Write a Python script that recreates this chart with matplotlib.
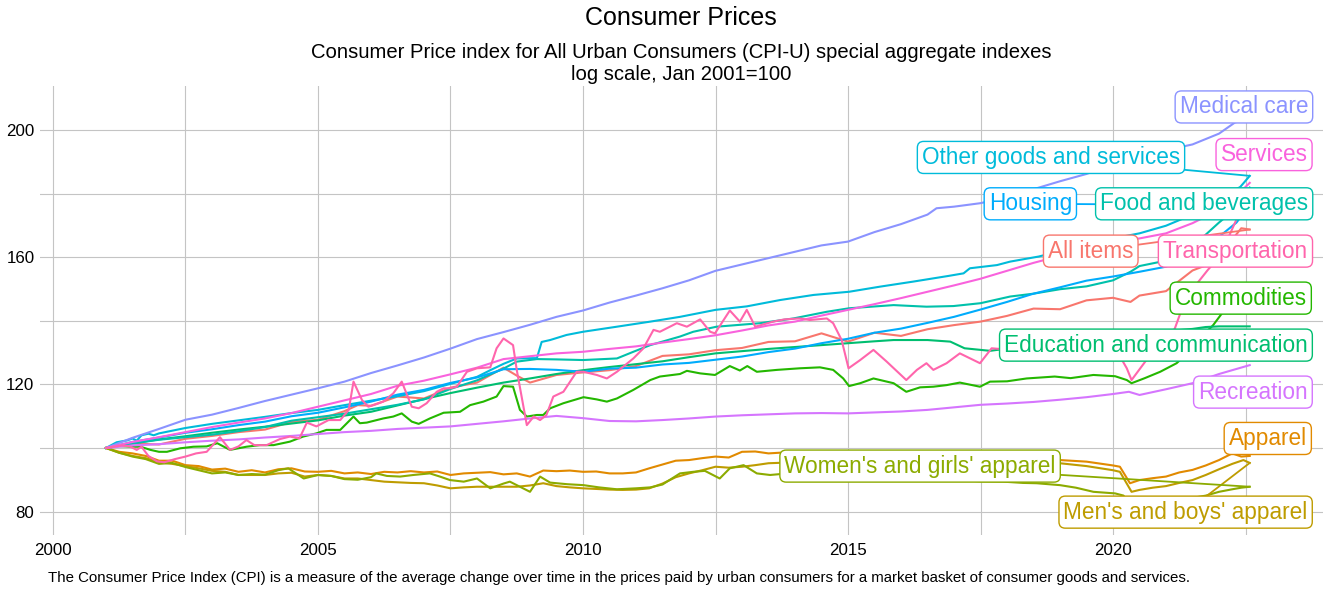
import matplotlib
matplotlib.use("Agg")
import matplotlib.pyplot as plt

plt.rcParams['font.family'] = ['Liberation Sans', 'DejaVu Sans']

# CPI-U special aggregate indexes, rebased to Jan 2001 = 100 (decimal year, index)
all_items = [(2001.0, 100.0), (2001.5, 101.4), (2002.0, 101.1), (2002.5, 102.9), (2003.0, 103.8),
             (2003.5, 105.0), (2004.0, 105.8), (2004.5, 108.2), (2005.0, 108.9), (2005.5, 111.6),
             (2005.75, 113.5), (2006.0, 113.3), (2006.5, 116.2), (2007.0, 115.6), (2007.5, 119.0),
             (2008.0, 120.6), (2008.5, 125.3), (2008.75, 122.8), (2009.0, 120.6), (2009.5, 123.0),
             (2010.0, 123.8), (2010.5, 124.5), (2011.0, 125.8), (2011.5, 129.0), (2012.0, 129.5),
             (2012.5, 130.8), (2013.0, 131.5), (2013.5, 133.4), (2014.0, 133.6), (2014.5, 136.1),
             (2015.0, 133.5), (2015.5, 136.3), (2016.0, 135.3), (2016.5, 137.4), (2017.0, 138.7),
             (2017.5, 139.8), (2018.0, 141.6), (2018.5, 143.9), (2019.0, 143.7), (2019.5, 146.5),
             (2020.0, 147.3), (2020.33, 146.0), (2020.5, 148.0), (2021.0, 149.4), (2021.5, 155.9),
             (2021.75, 157.5), (2022.0, 160.5), (2022.42, 169.2), (2022.58, 168.8)]

apparel = [(2001.0, 100.0), (2001.25, 98.8), (2001.5, 98.3), (2001.75, 97.5), (2002.0, 96.0),
           (2002.25, 96.0), (2002.5, 94.6), (2002.75, 94.3), (2003.0, 93.2), (2003.25, 93.5),
           (2003.5, 92.5), (2003.75, 93.0), (2004.0, 92.3), (2004.25, 93.3), (2004.5, 93.6),
           (2004.75, 92.6), (2005.0, 92.5), (2005.25, 92.8), (2005.5, 92.0), (2005.75, 92.3),
           (2006.0, 91.8), (2006.25, 92.5), (2006.5, 92.3), (2006.75, 92.7), (2007.0, 92.3),
           (2007.25, 92.6), (2007.5, 91.5), (2007.75, 92.0), (2008.0, 92.2), (2008.25, 92.4),
           (2008.5, 91.7), (2008.75, 92.0), (2009.0, 91.0), (2009.25, 92.9), (2009.5, 92.7),
           (2009.75, 92.9), (2010.0, 92.5), (2010.25, 92.6), (2010.5, 92.0), (2010.75, 92.0),
           (2011.0, 92.3), (2011.25, 93.6), (2011.5, 94.8), (2011.75, 96.0), (2012.0, 96.2),
           (2012.25, 96.8), (2012.5, 97.3), (2012.75, 97.0), (2013.0, 98.8), (2013.25, 98.9),
           (2013.5, 98.3), (2014.0, 98.8), (2014.5, 98.0), (2015.0, 97.2), (2015.5, 97.0),
           (2016.0, 96.5), (2016.5, 96.0), (2017.0, 96.0), (2017.5, 95.6), (2018.0, 95.8),
           (2018.5, 96.5), (2019.0, 96.2), (2019.5, 95.7), (2020.0, 94.5), (2020.13, 94.1),
           (2020.32, 88.9), (2020.5, 89.9), (2020.75, 90.5), (2021.0, 91.0), (2021.25, 92.3),
           (2021.5, 93.1), (2021.75, 94.5), (2022.0, 96.2), (2022.25, 98.3), (2022.42, 97.3),
           (2022.58, 97.5)]

mens_boys_apparel = [(2001.0, 100.0), (2001.25, 98.5), (2001.5, 97.5), (2001.75, 96.8), (2002.0, 95.5),
                     (2002.25, 95.0), (2002.5, 94.3), (2002.75, 93.6), (2003.0, 92.8), (2003.25, 92.5),
                     (2003.5, 91.5), (2003.75, 91.5), (2004.0, 91.5), (2004.25, 92.0), (2004.5, 92.2),
                     (2004.75, 91.0), (2005.0, 91.5), (2005.25, 91.2), (2005.5, 90.4), (2005.75, 90.4),
                     (2006.0, 89.9), (2006.25, 89.4), (2006.5, 89.2), (2006.75, 89.0), (2007.0, 88.9),
                     (2007.25, 88.2), (2007.5, 87.3), (2007.75, 87.6), (2008.0, 87.8), (2008.25, 87.8),
                     (2008.5, 87.8), (2008.75, 87.8), (2009.0, 88.2), (2009.25, 88.9), (2009.5, 88.0),
                     (2009.75, 87.6), (2010.0, 87.3), (2010.25, 87.1), (2010.5, 86.9), (2010.75, 86.8),
                     (2011.0, 86.9), (2011.25, 87.3), (2011.5, 88.8), (2011.75, 90.8), (2012.0, 92.0),
                     (2012.25, 93.0), (2012.5, 94.1), (2012.75, 93.8), (2013.0, 94.1), (2013.25, 94.6),
                     (2013.5, 95.2), (2014.0, 95.5), (2014.5, 95.3), (2015.0, 95.0), (2015.5, 94.8),
                     (2016.0, 94.5), (2016.5, 94.3), (2017.0, 94.5), (2017.5, 94.3), (2018.0, 94.8),
                     (2018.5, 95.0), (2019.0, 95.2), (2019.5, 94.3), (2020.0, 93.0), (2020.13, 92.5),
                     (2020.35, 86.2), (2020.5, 86.8), (2020.75, 87.5), (2021.0, 88.0), (2021.25, 89.0),
                     (2021.5, 89.9), (2021.75, 91.5), (2022.0, 93.3), (2022.25, 95.0), (2022.46, 96.2),
                     (2022.58, 95.3)]

womens_girls_apparel = [(2001.0, 100.0), (2001.25, 98.5), (2001.5, 97.3), (2001.75, 96.5), (2002.0, 95.0),
                        (2002.25, 95.3), (2002.5, 94.0), (2002.75, 93.0), (2003.0, 92.0), (2003.25, 92.3),
                        (2003.5, 91.5), (2003.75, 91.8), (2004.0, 91.6), (2004.25, 93.0), (2004.44, 93.6),
                        (2004.73, 90.4), (2005.0, 91.5), (2005.25, 91.2), (2005.5, 90.2), (2005.75, 90.0),
                        (2006.0, 90.8), (2006.1, 92.0), (2006.3, 91.2), (2006.55, 91.0), (2006.8, 91.5),
                        (2007.11, 92.0), (2007.3, 91.0), (2007.49, 89.9), (2007.75, 89.4), (2008.0, 90.4),
                        (2008.25, 87.3), (2008.5, 88.8), (2008.62, 89.4), (2009.0, 86.2), (2009.19, 91.0),
                        (2009.38, 89.1), (2009.7, 88.6), (2010.01, 88.3), (2010.3, 87.6), (2010.64, 87.0),
                        (2011.0, 87.3), (2011.27, 87.6), (2011.5, 88.5), (2011.83, 92.0), (2012.08, 92.5),
                        (2012.3, 92.8), (2012.58, 90.4), (2012.77, 93.6), (2013.03, 94.6), (2013.28, 92.0),
                        (2013.53, 91.5), (2014.0, 92.2), (2014.5, 91.5), (2015.0, 91.0), (2015.5, 90.8),
                        (2016.0, 90.3), (2016.5, 90.0), (2017.0, 90.0), (2017.5, 89.5), (2017.93, 89.4),
                        (2018.3, 89.0), (2018.56, 88.9), (2019.0, 88.3), (2019.3, 87.5), (2019.63, 86.2),
                        (2020.04, 85.7), (2020.2, 85.0), (2020.35, 80.0), (2020.5, 81.0), (2020.75, 82.0),
                        (2021.0, 82.8), (2021.25, 83.5), (2021.5, 84.3), (2021.75, 85.0), (2022.0, 86.2),
                        (2022.25, 87.0), (2022.42, 87.5), (2022.58, 87.8)]

commodities = [(2001.0, 100.0), (2001.25, 100.6), (2001.5, 100.4), (2001.65, 100.4), (2001.84, 99.4),
               (2002.0, 98.8), (2002.15, 98.8), (2002.4, 99.9), (2002.65, 100.4), (2002.9, 100.5),
               (2003.1, 101.5), (2003.34, 99.4), (2003.65, 100.4), (2003.9, 100.9), (2004.16, 100.9),
               (2004.47, 102.0), (2004.72, 103.6), (2004.97, 104.6), (2005.16, 105.7), (2005.42, 105.7),
               (2005.67, 109.9), (2005.79, 107.8), (2005.92, 108.0), (2006.23, 109.3), (2006.42, 109.9),
               (2006.58, 110.9), (2006.77, 108.3), (2006.9, 107.6), (2007.11, 109.3), (2007.37, 111.1),
               (2007.68, 111.4), (2007.87, 113.5), (2008.12, 114.6), (2008.37, 116.2), (2008.5, 119.5),
               (2008.68, 119.3), (2008.81, 112.0), (2008.94, 109.9), (2009.13, 110.4), (2009.25, 110.4),
               (2009.38, 112.5), (2009.63, 114.1), (2010.01, 116.0), (2010.26, 115.3), (2010.45, 114.6),
               (2010.64, 115.6), (2010.95, 118.3), (2011.27, 121.4), (2011.45, 122.5), (2011.83, 123.3),
               (2011.96, 124.3), (2012.21, 123.5), (2012.49, 123.0), (2012.77, 125.8), (2012.96, 124.4),
               (2013.1, 125.8), (2013.28, 124.0), (2013.66, 124.6), (2014.09, 125.1), (2014.47, 125.4),
               (2014.72, 124.6), (2014.91, 121.9), (2015.02, 119.5), (2015.23, 120.4), (2015.48, 121.9),
               (2015.86, 120.4), (2016.1, 117.7), (2016.36, 119.1), (2016.61, 119.3), (2016.86, 119.8),
               (2017.11, 120.6), (2017.49, 119.3), (2017.68, 120.9), (2018.0, 121.0), (2018.37, 121.9),
               (2018.9, 122.5), (2019.2, 122.0), (2019.63, 123.0), (2020.04, 122.6), (2020.26, 121.4),
               (2020.35, 120.4), (2020.6, 122.0), (2020.89, 124.0), (2021.2, 126.7), (2021.45, 130.5),
               (2021.7, 135.5), (2021.89, 138.7), (2022.06, 142.5), (2022.25, 146.0), (2022.42, 149.0),
               (2022.58, 146.5)]

education_communication = [(2001.0, 100.0), (2001.5, 101.5), (2002.0, 102.7), (2002.5, 103.7), (2003.0, 104.8),
                           (2003.5, 105.8), (2004.0, 106.7), (2004.5, 107.7), (2005.0, 108.7), (2005.5, 110.2),
                           (2006.0, 111.4), (2006.5, 113.4), (2007.0, 115.4), (2007.5, 117.3), (2008.0, 119.0),
                           (2008.5, 120.6), (2009.0, 121.9), (2009.5, 123.3), (2010.0, 124.5), (2010.5, 125.5),
                           (2011.0, 126.4), (2011.5, 127.3), (2012.0, 128.6), (2012.5, 129.8), (2013.0, 130.5),
                           (2013.5, 131.2), (2014.0, 131.8), (2014.5, 132.4), (2015.0, 133.0), (2015.5, 133.6),
                           (2015.86, 134.0), (2016.5, 134.0), (2016.93, 133.5), (2017.2, 131.4), (2017.68, 130.6),
                           (2018.0, 131.3), (2018.5, 132.4), (2019.0, 133.4), (2019.5, 134.4), (2020.0, 135.3),
                           (2020.5, 136.0), (2021.0, 136.8), (2021.5, 137.5), (2021.75, 138.1), (2022.0, 138.3),
                           (2022.58, 138.3)]

food_beverages = [(2001.0, 100.0), (2001.5, 101.4), (2002.0, 102.6), (2002.5, 103.4), (2003.0, 104.2),
                  (2003.5, 105.3), (2004.0, 106.6), (2004.5, 108.6), (2005.0, 109.7), (2005.5, 110.8),
                  (2006.0, 112.2), (2006.5, 113.6), (2007.0, 115.3), (2007.5, 118.6), (2008.0, 121.3),
                  (2008.5, 125.0), (2008.75, 127.2), (2009.13, 128.0), (2009.5, 127.9), (2010.0, 127.7),
                  (2010.64, 128.2), (2010.95, 130.3), (2011.27, 132.4), (2011.83, 135.1), (2012.08, 136.6),
                  (2012.52, 138.2), (2013.34, 139.3), (2013.97, 140.8), (2014.6, 142.9), (2015.02, 144.0),
                  (2015.86, 145.0), (2016.48, 144.5), (2016.99, 144.7), (2017.5, 145.6), (2018.06, 147.7),
                  (2018.5, 148.6), (2019.0, 150.0), (2019.5, 150.9), (2020.0, 152.8), (2020.33, 155.5),
                  (2020.5, 157.3), (2021.0, 159.0), (2021.5, 163.4), (2022.0, 171.0), (2022.25, 174.5),
                  (2022.58, 182.0)]

other_goods_services = [(2001.0, 100.0), (2001.2, 101.8), (2001.4, 102.4), (2001.5, 103.0), (2001.58, 102.3),
                        (2001.67, 104.0), (2001.8, 104.5), (2001.9, 104.0), (2002.0, 104.6), (2002.5, 106.3),
                        (2003.0, 107.6), (2003.5, 108.7), (2004.0, 109.8), (2004.5, 111.0), (2005.0, 112.0),
                        (2005.5, 113.5), (2006.0, 114.9), (2006.5, 116.3), (2007.0, 117.9), (2007.5, 120.2),
                        (2008.0, 122.4), (2008.25, 124.5), (2008.5, 126.5), (2008.75, 128.2), (2009.13, 128.3),
                        (2009.22, 133.4), (2009.38, 134.0), (2009.69, 135.6), (2010.0, 136.6), (2010.64, 138.2),
                        (2011.27, 139.8), (2011.83, 141.3), (2012.5, 143.5), (2013.09, 144.6), (2013.72, 146.6),
                        (2014.35, 148.2), (2015.02, 149.2), (2015.6, 150.8), (2016.23, 152.4), (2016.9, 154.2),
                        (2017.18, 155.0), (2017.3, 156.6), (2017.81, 157.6), (2018.06, 158.7), (2018.6, 160.3),
                        (2019.0, 162.0), (2019.5, 164.0), (2020.0, 166.0), (2020.5, 167.6), (2021.0, 170.0),
                        (2021.5, 173.5), (2022.0, 178.5), (2022.4, 182.2), (2022.58, 185.7)]

housing = [(2001.0, 100.0), (2001.5, 101.9), (2002.0, 103.3), (2002.5, 104.8), (2003.0, 105.9),
           (2003.5, 107.2), (2004.0, 108.3), (2004.5, 110.0), (2005.0, 111.1), (2005.5, 112.8),
           (2006.0, 114.6), (2006.5, 116.8), (2007.0, 118.3), (2007.5, 120.5), (2008.0, 122.2),
           (2008.5, 124.8), (2009.0, 124.9), (2009.5, 124.6), (2010.0, 124.0), (2010.5, 125.0),
           (2011.0, 125.3), (2011.5, 126.3), (2012.0, 126.8), (2012.5, 127.8), (2013.0, 128.8),
           (2013.5, 130.2), (2014.0, 131.3), (2014.5, 133.0), (2015.0, 134.4), (2015.5, 136.3),
           (2016.0, 137.6), (2016.5, 139.4), (2017.0, 141.3), (2017.5, 143.6), (2018.0, 146.0),
           (2018.5, 148.6), (2019.0, 150.6), (2019.5, 152.7), (2020.0, 154.0), (2020.5, 155.5),
           (2021.0, 157.1), (2021.5, 161.0), (2022.0, 166.5), (2022.33, 171.0), (2022.58, 176.5)]

medical_care = [(2001.0, 100.0), (2001.5, 103.2), (2002.0, 106.0), (2002.5, 108.9), (2003.0, 110.5),
                (2003.5, 112.6), (2004.0, 114.8), (2004.5, 116.8), (2005.0, 118.8), (2005.5, 120.9),
                (2006.0, 123.6), (2006.5, 126.0), (2007.0, 128.5), (2007.5, 131.3), (2008.0, 134.3),
                (2008.5, 136.5), (2009.0, 138.8), (2009.5, 141.3), (2010.0, 143.3), (2010.5, 145.8),
                (2011.0, 148.0), (2011.5, 150.3), (2012.0, 152.8), (2012.5, 155.8), (2013.0, 157.8),
                (2013.5, 159.8), (2014.0, 161.8), (2014.5, 163.8), (2015.0, 165.0), (2015.5, 168.0),
                (2016.0, 170.5), (2016.5, 173.5), (2016.67, 175.5), (2017.0, 176.0), (2017.5, 177.1),
                (2018.0, 179.0), (2018.5, 181.5), (2019.0, 184.0), (2019.5, 186.3), (2020.0, 189.3),
                (2020.5, 191.7), (2021.0, 193.8), (2021.5, 195.6), (2022.0, 199.0), (2022.3, 202.5),
                (2022.58, 204.0)]

recreation = [(2001.0, 100.0), (2001.5, 100.8), (2002.0, 101.2), (2002.5, 101.8), (2003.0, 102.3),
              (2003.5, 102.7), (2004.0, 103.3), (2004.5, 103.8), (2005.0, 104.4), (2005.5, 105.0),
              (2006.0, 105.4), (2006.5, 106.0), (2007.0, 106.4), (2007.5, 106.8), (2008.0, 107.6),
              (2008.5, 108.4), (2009.0, 109.3), (2009.5, 110.1), (2010.0, 109.4), (2010.5, 108.5),
              (2011.0, 108.4), (2011.5, 108.8), (2012.0, 109.3), (2012.5, 109.9), (2013.0, 110.3),
              (2013.5, 110.6), (2014.0, 110.9), (2014.5, 111.0), (2015.0, 110.9), (2015.5, 111.2),
              (2016.0, 111.5), (2016.5, 112.0), (2017.0, 112.8), (2017.5, 113.6), (2018.0, 114.0),
              (2018.5, 114.5), (2019.0, 115.2), (2019.5, 116.0), (2020.0, 117.0), (2020.3, 117.7),
              (2020.5, 116.7), (2021.0, 118.5), (2021.5, 120.4), (2022.0, 123.3), (2022.58, 126.1)]

services = [(2001.0, 100.0), (2001.5, 101.9), (2002.0, 103.4), (2002.5, 105.0), (2003.0, 106.6),
            (2003.5, 108.0), (2004.0, 109.3), (2004.5, 111.0), (2005.0, 113.0), (2005.5, 115.0),
            (2006.0, 117.0), (2006.5, 119.6), (2007.0, 121.2), (2007.5, 123.2), (2008.0, 125.3),
            (2008.5, 128.0), (2009.0, 128.9), (2009.5, 129.8), (2010.0, 130.3), (2010.5, 131.2),
            (2011.0, 132.0), (2011.5, 133.2), (2012.0, 134.3), (2012.5, 135.5), (2013.0, 137.0),
            (2013.5, 138.6), (2014.0, 139.8), (2014.5, 141.7), (2015.0, 143.5), (2015.5, 145.3),
            (2016.0, 147.2), (2016.5, 149.2), (2017.0, 151.2), (2017.5, 153.3), (2018.0, 155.8),
            (2018.5, 158.3), (2019.0, 160.5), (2019.5, 163.0), (2020.0, 165.0), (2020.5, 166.0),
            (2021.0, 167.6), (2021.5, 170.8), (2022.0, 175.0), (2022.3, 179.0), (2022.58, 183.5)]

transportation = [(2001.0, 100.0), (2001.3, 100.8), (2001.45, 100.5), (2001.58, 99.4), (2001.67, 100.4),
                  (2001.8, 97.5), (2001.96, 95.8), (2002.1, 95.5), (2002.3, 96.5), (2002.5, 97.3),
                  (2002.7, 98.3), (2002.9, 98.8), (2003.15, 103.4), (2003.34, 99.4), (2003.5, 100.5),
                  (2003.65, 102.5), (2003.8, 100.9), (2004.03, 100.9), (2004.28, 102.8), (2004.47, 103.6),
                  (2004.65, 103.0), (2004.79, 108.0), (2004.97, 106.8), (2005.2, 108.8), (2005.42, 108.8),
                  (2005.58, 112.0), (2005.67, 120.9), (2005.83, 115.1), (2005.95, 113.0), (2006.1, 113.8),
                  (2006.23, 114.6), (2006.42, 117.2), (2006.58, 120.9), (2006.77, 113.0), (2006.9, 112.5),
                  (2007.05, 114.1), (2007.24, 117.7), (2007.37, 118.8), (2007.49, 118.8), (2007.62, 119.3),
                  (2007.81, 124.0), (2008.0, 125.1), (2008.25, 125.4), (2008.37, 131.4), (2008.5, 134.5),
                  (2008.68, 132.4), (2008.75, 124.6), (2008.94, 107.2), (2009.07, 109.9), (2009.19, 108.8),
                  (2009.31, 110.4), (2009.44, 116.2), (2009.63, 117.7), (2009.88, 124.0), (2010.01, 124.0),
                  (2010.26, 123.0), (2010.45, 121.9), (2010.64, 124.0), (2010.95, 128.2), (2011.14, 131.4),
                  (2011.33, 137.2), (2011.45, 136.6), (2011.64, 138.2), (2011.77, 139.3), (2011.96, 138.2),
                  (2012.21, 140.5), (2012.4, 136.6), (2012.49, 136.1), (2012.77, 143.3), (2012.96, 139.8),
                  (2013.09, 143.5), (2013.25, 138.2), (2013.59, 139.8), (2013.8, 140.5), (2014.09, 140.8),
                  (2014.28, 140.3), (2014.6, 140.8), (2014.72, 139.3), (2014.88, 134.0), (2015.01, 125.1),
                  (2015.23, 127.7), (2015.48, 130.9), (2015.73, 127.2), (2016.1, 121.4), (2016.3, 124.6),
                  (2016.48, 126.7), (2016.61, 124.6), (2016.86, 126.7), (2017.11, 129.8), (2017.49, 126.7),
                  (2017.71, 131.4), (2018.0, 131.0), (2018.4, 134.0), (2018.8, 132.5), (2019.0, 129.0),
                  (2019.4, 133.0), (2019.8, 132.0), (2020.04, 131.5), (2020.26, 125.1), (2020.35, 121.4),
                  (2020.63, 127.7), (2020.9, 129.5), (2021.17, 137.8), (2021.27, 142.4), (2021.5, 150.0),
                  (2021.79, 156.1), (2022.0, 160.0), (2022.17, 166.0), (2022.33, 172.0), (2022.42, 178.0),
                  (2022.5, 176.0), (2022.58, 173.0)]

# name, values, colour (hue palette in series-code order), label centre, draw connector
series = [
    ("All items", all_items, "#F8766D", (2019.58, 162.0), True),
    ("Apparel", apparel, "#E18A00", (2022.92, 103.0), False),
    ("Men's and boys' apparel", mens_boys_apparel, "#BE9C00", (2021.37, 79.8), True),
    ("Women's and girls' apparel", womens_girls_apparel, "#8CAB00", (2016.36, 94.3), True),
    ("Commodities", commodities, "#24B700", (2022.41, 147.2), False),
    ("Education and communication", education_communication, "#00BE70", (2020.81, 132.4), False),
    ("Food and beverages", food_beverages, "#00C1AB", (2021.72, 176.9), False),
    ("Other goods and services", other_goods_services, "#00BBDA", (2018.83, 191.5), True),
    ("Housing", housing, "#00ACFC", (2018.44, 176.9), True),
    ("Medical care", medical_care, "#8B93FF", (2022.47, 207.4), False),
    ("Recreation", recreation, "#D575FE", (2022.64, 117.6), False),
    ("Services", services, "#F962DD", (2022.85, 192.4), False),
    ("Transportation", transportation, "#FF65AC", (2022.31, 162.0), False),
]

W, H = 1328, 592
fig = plt.figure(figsize=(W / 100, H / 100), dpi=100)
ax = fig.add_axes([40 / W, 1 - 535 / H, (1323 - 40) / W, (535 - 86) / H])

for name, pts, col, _, _ in series:
    xs = [p[0] for p in pts]
    ys = [p[1] for p in pts]
    ax.plot(xs, ys, color=col, lw=1.5, zorder=3, solid_joinstyle='round')

label_fs = 16.3
box = dict(boxstyle="round,pad=0.2,rounding_size=0.28")

# connector segments first, so every label box sits on top of them
for name, pts, col, pos, seg in series:
    if seg:
        ax.annotate(name, xy=pts[-1], xytext=pos, ha='center', va='center',
                    fontsize=label_fs, color=(0, 0, 0, 0),
                    bbox=dict(box, fc='none', ec='none'),
                    arrowprops=dict(arrowstyle='-', color=col, lw=1.3,
                                    shrinkA=0, shrinkB=0),
                    zorder=4)

for name, pts, col, pos, seg in series:
    ax.text(pos[0], pos[1], name, ha='center', va='center', fontsize=label_fs,
            color=col, zorder=6,
            bbox=dict(box, fc='white', ec=col, lw=1.0))

ax.set_xlim(1999.755, 2023.962)
ax.set_ylim(72.6, 214.0)
ax.set_xticks([2000, 2005, 2010, 2015, 2020])
ax.set_xticks([2002.5, 2007.5, 2012.5, 2017.5, 2022.5], minor=True)
ax.set_yticks([80, 120, 160, 200])
ax.set_yticks([100, 140, 180], minor=True)
ax.grid(True, which='both', color='#C4C4C4', lw=0.8, zorder=0)
ax.set_axisbelow(True)
ax.tick_params(which='both', length=0, labelsize=12.2, colors='black')
ax.tick_params(axis='x', pad=6)
ax.tick_params(axis='y', pad=4)
for s in ax.spines.values():
    s.set_visible(False)

fig.text(681 / W, 1 - 18 / H, "Consumer Prices", ha='center', va='center', fontsize=18)
fig.text(681 / W, 1 - 52 / H,
         "Consumer Price index for All Urban Consumers (CPI-U) special aggregate indexes",
         ha='center', va='center', fontsize=14.6)
fig.text(681 / W, 1 - 74 / H, "log scale, Jan 2001=100", ha='center', va='center', fontsize=14.6)
fig.text(48 / W, 1 - 578 / H,
         "The Consumer Price Index (CPI) is a measure of the average change over time in the prices "
         "paid by urban consumers for a market basket of consumer goods and services.",
         ha='left', va='center', fontsize=10.8)

fig.savefig("out.png", dpi=100)
